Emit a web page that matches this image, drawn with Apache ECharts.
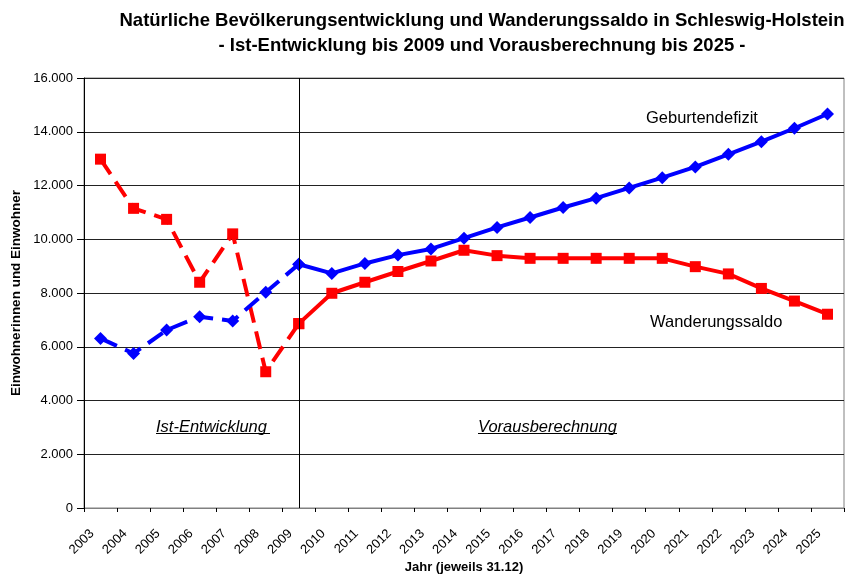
<!DOCTYPE html>
<html>
<head>
<meta charset="utf-8">
<script src="https://cdn.jsdelivr.net/npm/echarts@6/dist/echarts.min.js"></script>
<style>
  html, body { margin: 0; padding: 0; background: #fff; }
  #chart { width: 860px; height: 576px; }
</style>
</head>
<body>
<div id="chart"></div>
<script>
// Jahre (jeweils 31.12)
const years = ['2003', '2004', '2005', '2006', '2007', '2008', '2009', '2010', '2011', '2012', '2013', '2014',
  '2015', '2016', '2017', '2018', '2019', '2020', '2021', '2022', '2023', '2024', '2025'];

const geburtendefizit = [6310, 5750, 6620, 7120, 6960, 8030, 9070, 8730, 9100, 9410, 9640, 10040,
  10440, 10810, 11180, 11530, 11910, 12290, 12690, 13160, 13630, 14130, 14660];

const wanderungssaldo = [12980, 11150, 10740, 8400, 10200, 5070, 6860, 7990, 8400, 8800, 9190, 9590,
  9390, 9290, 9290, 9290, 9290, 9290, 8980, 8710, 8170, 7700, 7210];

const yTicks = [0, 2000, 4000, 6000, 8000, 10000, 12000, 14000, 16000];

// Ist-Entwicklung bis 2009, danach Vorausberechnung
const lastIst = years.indexOf('2009');
const ist = arr => arr.map((v, i) => (i <= lastIst ? v : '-'));
const prognose = arr => arr.map((v, i) => (i >= lastIst ? v : '-'));

const fmt = v => String(v).replace(/\B(?=(\d{3})+(?!\d))/g, '.');

const font = 'Liberation Sans, Arial, sans-serif';
const blue = '#0000ff';
const red = '#ff0000';

const chart = echarts.init(document.getElementById('chart'));

const lineSeries = (name, data, color, symbol, dashed) => ({
  name: name,
  type: 'line',
  data: data,
  symbol: symbol,
  symbolSize: symbol === 'diamond' ? 13 : 11,
  showAllSymbol: true,
  connectNulls: false,
  itemStyle: { color: color },
  lineStyle: { color: color, width: 4, type: dashed ? [18, 9] : 'solid' },
  emphasis: { disabled: true },
  z: symbol === 'diamond' ? 3 : 2
});

chart.setOption({
  animation: false,
  backgroundColor: '#fff',
  title: {
    text: 'Natürliche Bevölkerungsentwicklung und Wanderungssaldo in Schleswig-Holstein\n- Ist-Entwicklung bis 2009 und Vorausberechnung bis 2025 -',
    left: 477,
    textAlign: 'center',
    top: 3,
    textStyle: { fontFamily: font, fontSize: 18.5, fontWeight: 'bold', color: '#000', lineHeight: 25 }
  },
  grid: {
    left: 84, right: 16, top: 78, bottom: 68,
    outerBoundsMode: 'none',
    show: true, borderColor: '#808080', borderWidth: 1
  },
  xAxis: {
    type: 'category',
    data: years,
    boundaryGap: true,
    name: 'Jahr (jeweils 31.12)',
    nameLocation: 'middle',
    nameGap: 53,
    nameMoveOverlap: false,
    nameTextStyle: { fontFamily: font, fontSize: 13, fontWeight: 'bold', color: '#000' },
    axisLine: { lineStyle: { color: '#808080', width: 1 } },
    axisTick: { show: true, alignWithLabel: false, length: 4, lineStyle: { color: '#000' } },
    axisLabel: {
      rotate: 45, interval: 0, margin: 15, padding: [0, 12, 0, 0],
      fontFamily: font, fontSize: 13, color: '#000'
    },
    splitLine: { show: false }
  },
  yAxis: {
    type: 'value',
    min: yTicks[0],
    max: yTicks[yTicks.length - 1],
    interval: yTicks[1] - yTicks[0],
    name: 'Einwohnerinnen und Einwohner',
    nameLocation: 'middle',
    nameGap: 61,
    nameRotate: 90,
    nameMoveOverlap: false,
    nameTextStyle: { fontFamily: font, fontSize: 13.5, fontWeight: 'bold', color: '#000' },
    axisLine: { show: true, lineStyle: { color: '#000', width: 1 } },
    axisTick: { show: true, length: 7, lineStyle: { color: '#000' } },
    axisLabel: { formatter: fmt, margin: 11, fontFamily: font, fontSize: 13, color: '#000' },
    splitLine: { show: true, lineStyle: { color: '#222', width: 1 } }
  },
  series: [
    Object.assign(lineSeries('Wanderungssaldo Ist', ist(wanderungssaldo), red, 'rect', true), {
      markLine: {
        silent: true,
        symbol: 'none',
        label: { show: false },
        lineStyle: { color: '#000', width: 1, type: 'solid' },
        data: [{ xAxis: '2009' }]
      }
    }),
    lineSeries('Wanderungssaldo', prognose(wanderungssaldo), red, 'rect', false),
    lineSeries('Geburtendefizit Ist', ist(geburtendefizit), blue, 'diamond', true),
    lineSeries('Geburtendefizit', prognose(geburtendefizit), blue, 'diamond', false)
  ],
  graphic: [
    { type: 'text', left: 646, top: 110, style: { text: 'Geburtendefizit', font: '16.5px ' + font, fill: '#000' } },
    { type: 'text', left: 650, top: 314, style: { text: 'Wanderungssaldo', font: '16.5px ' + font, fill: '#000' } },
    { type: 'text', left: 156, top: 419, style: { text: 'Ist-Entwicklung', font: 'italic 16.5px ' + font, fill: '#000' } },
    { type: 'line', shape: { x1: 156, y1: 433.5, x2: 270, y2: 433.5 }, style: { stroke: '#000', lineWidth: 1 } },
    { type: 'text', left: 478, top: 419, style: { text: 'Vorausberechnung', font: 'italic 16.5px ' + font, fill: '#000' } },
    { type: 'line', shape: { x1: 478, y1: 433.5, x2: 617, y2: 433.5 }, style: { stroke: '#000', lineWidth: 1 } }
  ]
});
</script>
</body>
</html>
